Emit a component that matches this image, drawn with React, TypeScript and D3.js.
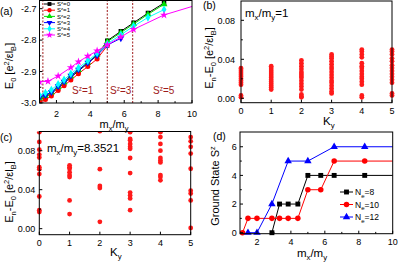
import * as d3 from "d3";
import React from "react";

const FONT = "'Liberation Sans', Arial, Helvetica, sans-serif";
const DARKRED = "#9e1b1b";

// ---- panel (a): E0 vs mx/my for each Sz sector
const ratioA = [1.0, 1.35, 1.7, 2.1, 2.45, 2.85, 3.3, 3.85, 4.4, 5.0, 5.8, 6.55, 7.4, 8.35];
const e0Sz0 = [-2.988, -2.98, -2.97, -2.952, -2.937, -2.918, -2.898, -2.874, -2.848, -2.802, -2.772, -2.745, -2.714, -2.682];
const e0Sz1 = [-2.996, -2.989, -2.978, -2.96, -2.945, -2.927, -2.907, -2.884, -2.86, -2.818];
const e0Sz2 = [-2.985, -2.977, -2.967, -2.949, -2.934, -2.915, -2.895, -2.871, -2.846, -2.805, -2.776, -2.749, -2.718, -2.686];
const e0Sz3 = [-2.982, -2.975, -2.965, -2.947, -2.932, -2.913, -2.894, -2.872, -2.848, -2.816, -2.794];
const e0Sz4 = [-2.975, -2.968, -2.958, -2.94, -2.926, -2.907, -2.888, -2.866, -2.842, -2.812, -2.783, -2.756, -2.728, -2.703];
const ratioSz5 = [1.0, 1.5, 2.1, 2.85, 3.3, 3.85, 4.4, 5.0, 5.8, 6.55, 8.35, 10];
const e0Sz5 = [-2.933, -2.931, -2.914, -2.887, -2.869, -2.851, -2.834, -2.815, -2.79, -2.766, -2.72, -2.693];
const transitions = [1.2, 5.0, 6.5];
const phaseLabels = [
  { at: 2.92, s: "1" },
  { at: 5.16, s: "3" },
  { at: 7.7, s: "5" },
];

// ---- panel (b): spectrum at mx/my = 1
const ky = [0, 1, 2, 3, 4, 5];
const gapB = [
  [0.001, 0.003, 0.014, 0.016, 0.018, 0.02, 0.022, 0.024, 0.026, 0.028, 0.03, 0.031],
  [0.009, 0.011, 0.013, 0.015, 0.017, 0.019, 0.021, 0.023, 0.025, 0.027, 0.029, 0.031, 0.033],
  [0.001, 0.002, 0.004, 0.009, 0.012, 0.015, 0.018, 0.021, 0.023, 0.025, 0.027, 0.03, 0.033, 0.036, 0.039],
  [0.005, 0.007, 0.01, 0.013, 0.016, 0.018, 0.021, 0.024, 0.027, 0.03, 0.032, 0.035, 0.038, 0.041, 0.043, 0.045],
  [0.001, 0.003, 0.014, 0.017, 0.02, 0.022, 0.025, 0.028, 0.031, 0.033, 0.036, 0.042, 0.045, 0.048, 0.05],
  [0.003, 0.005, 0.016, 0.019, 0.022, 0.025, 0.028, 0.031, 0.034, 0.038, 0.041, 0.045, 0.048, 0.05],
];

// ---- panel (c): spectrum at mx/my = 8.3521
const gapC = [
  [0.017, 0.019, 0.033, 0.056, 0.061, 0.063, 0.073, 0.076, 0.081, 0.089, 0.099],
  [0.015, 0.029, 0.053, 0.055, 0.058, 0.0615, 0.063, 0.065],
  [0.007, 0.0417, 0.0438, 0.061, 0.1],
  [0.019, 0.031, 0.034, 0.037, 0.057, 0.0725, 0.082, 0.084, 0.087, 0.0906, 0.092, 0.099],
  [0.0496, 0.053, 0.055, 0.068, 0.07, 0.0725, 0.08, 0.087, 0.094, 0.099],
  [0.0007, 0.029, 0.036, 0.039, 0.0615, 0.077, 0.084, 0.0896, 0.094],
];

// ---- panel (d): ground state Sz
const ratioN8 = [2.88, 3.33, 3.84, 4.41, 5.0, 5.76, 6.55, 8.35, 10];
const szN8 = [0, 2, 2, 2, 4, 4, 4, 4, 4];
const ratioN10 = [1.15, 1.47, 2.0, 2.88, 3.33, 3.84, 4.41, 5.0, 5.76, 6.55, 8.35, 10];
const szN10 = [0, 1, 1, 1, 1, 1, 1, 3, 3, 5, 5, 5];
const ratioN12 = [1.47, 2.0, 2.88, 3.84, 5.0, 6.55, 8.35, 10];
const szN12 = [0, 0, 2, 5, 5, 6, 6, 6];

type Sc = d3.ScaleLinear<number, number>;

const sym = (type: d3.SymbolType, size: number) => d3.symbol(type, size)() as string;

function MxMy({ fs, rest }: { fs: number; rest?: string }) {
  const s = fs * 0.68;
  const d = fs * 0.28;
  return (
    <>
      m<tspan dy={d} fontSize={s}>x</tspan>
      <tspan dy={-d}>/m</tspan>
      <tspan dy={d} fontSize={s}>y</tspan>
      {rest ? <tspan dy={-d}>{rest}</tspan> : null}
    </>
  );
}

function Frame(props: {
  x: Sc; y: Sc;
  xt: number[]; xm?: number[]; yt: number[]; ym?: number[];
  xf: (v: number) => string; yf: (v: number) => string;
  xly: number; ylx: number;
}) {
  const { x, y, xt, xm = [], yt, ym = [], xf, yf, xly, ylx } = props;
  const [x0, x1] = x.range();
  const [y0, y1] = y.range();
  return (
    <g fontFamily={FONT} fontSize={9}>
      <rect x={x0} y={y1} width={x1 - x0} height={y0 - y1} fill="none" stroke="#000" strokeWidth={1} />
      {xt.map((t) => (
        <g key={"xt" + t}>
          <line x1={x(t)} x2={x(t)} y1={y0} y2={y0 - 3} stroke="#000" />
          <text x={x(t)} y={y0 + xly} textAnchor="middle">{xf(t)}</text>
        </g>
      ))}
      {xm.map((t) => (
        <line key={"xm" + t} x1={x(t)} x2={x(t)} y1={y0} y2={y0 - 1.8} stroke="#000" />
      ))}
      {yt.map((t) => (
        <g key={"yt" + t}>
          <line x1={x0} x2={x0 + 3} y1={y(t)} y2={y(t)} stroke="#000" />
          <text x={x0 - ylx} y={y(t) + 3.2} textAnchor="end">{yf(t)}</text>
        </g>
      ))}
      {ym.map((t) => (
        <line key={"ym" + t} x1={x0} x2={x0 + 1.8} y1={y(t)} y2={y(t)} stroke="#000" />
      ))}
    </g>
  );
}

function PanelA() {
  const x = d3.scaleLinear().domain([1, 10]).range([39.5, 192]);
  const y = d3.scaleLinear().domain([-3.0, -2.674]).range([103, 0.5]);
  const series = [
    { xs: ratioA, ys: e0Sz0, color: "#000000", type: d3.symbolSquare, rot: 0, label: "0" },
    { xs: ratioA, ys: e0Sz1, color: "#ff0000", type: d3.symbolCircle, rot: 0, label: "1" },
    { xs: ratioA, ys: e0Sz2, color: "#00e000", type: d3.symbolTriangle, rot: 0, label: "2" },
    { xs: ratioA, ys: e0Sz3, color: "#0000ff", type: d3.symbolTriangle, rot: 180, label: "3" },
    { xs: ratioA, ys: e0Sz4, color: "#00ffff", type: d3.symbolDiamond, rot: 0, label: "4" },
    { xs: ratioSz5, ys: e0Sz5, color: "#ff00ff", type: d3.symbolStar, rot: 0, label: "5" },
  ];
  const line = d3.line<[number, number]>().x((d) => x(d[0])).y((d) => y(d[1]));
  return (
    <g>
      <defs>
        <clipPath id="clipA">
          <rect x={39.5} y={0} width={152.5} height={103} />
        </clipPath>
      </defs>
      {transitions.map((t) => (
        <line key={t} x1={x(t)} x2={x(t)} y1={103} y2={0.5} stroke={DARKRED} strokeWidth={1} strokeDasharray="2,1.5" />
      ))}
      <g clipPath="url(#clipA)">
        {series.map((s) => {
          const pts = s.ys.map((v, i) => [s.xs[i], v] as [number, number]);
          return (
            <g key={s.label}>
              <path d={line(pts) as string} fill="none" stroke={s.color} strokeWidth={1} />
              {pts.filter((p) => p[0] < 9.9).map((p, i) => (
                <path key={i} d={sym(s.type, 20)} fill={s.color}
                  transform={`translate(${x(p[0])},${y(p[1])}) rotate(${s.rot})`} />
              ))}
            </g>
          );
        })}
      </g>
      {phaseLabels.map((p) => (
        <text key={p.s} x={x(p.at)} y={94} fill={DARKRED} fontFamily={FONT} fontSize={10}>
          S<tspan dy={-3.5} fontSize={6.5}>z</tspan><tspan dy={3.5}>={p.s}</tspan>
        </text>
      ))}
      <rect x={42} y={0.5} width={36} height={37} fill="#fff" fillOpacity={0} />
      {series.map((s, i) => {
        const ly = 4 + i * 6.2;
        return (
          <g key={"lg" + s.label}>
            <line x1={44} x2={55} y1={ly} y2={ly} stroke={s.color} strokeWidth={1} />
            <path d={sym(s.type, 15)} fill={s.color} transform={`translate(49.5,${ly}) rotate(${s.rot})`} />
            <text x={57} y={ly + 2.2} fontFamily={FONT} fontSize={6}>
              S<tspan dy={-2} fontSize={4.2}>z</tspan><tspan dy={2}>={s.label}</tspan>
            </text>
          </g>
        );
      })}
      <Frame x={x} y={y} xt={[2, 4, 6, 8, 10]} xm={[1, 3, 5, 7, 9]} yt={[-3.0, -2.9, -2.8, -2.7]}
        ym={[-2.95, -2.85, -2.75]} xf={(v) => String(v)} yf={(v) => v.toFixed(1)} xly={13.5} ylx={3} />
      <text x={0} y={15} fontFamily={FONT} fontSize={10.5}>(a)</text>
      <text x={114} y={127.5} textAnchor="middle" fontFamily={FONT} fontSize={11}>
        <MxMy fs={11} />
      </text>
      <text transform="translate(13,66) rotate(-90)" textAnchor="middle" fontFamily={FONT} fontSize={11}>
        E<tspan dy={3} fontSize={7.5}>0</tspan>
        <tspan dy={-3}> [e</tspan>
        <tspan dy={-4} fontSize={7.5}>2</tspan>
        <tspan dy={4}>/εl</tspan>
        <tspan dy={3} fontSize={7.5}>B</tspan>
        <tspan dy={-3}>]</tspan>
      </text>
    </g>
  );
}

function GapLabel({ cx, cy }: { cx: number; cy: number }) {
  return (
    <text transform={`translate(${cx},${cy}) rotate(-90)`} textAnchor="middle" fontFamily={FONT} fontSize={11}>
      E<tspan dy={3} fontSize={7.5}>n</tspan>
      <tspan dy={-3}>-E</tspan>
      <tspan dy={3} fontSize={7.5}>0</tspan>
      <tspan dy={-3}> [e</tspan>
      <tspan dy={-4} fontSize={7.5}>2</tspan>
      <tspan dy={4}>/εl</tspan>
      <tspan dy={3} fontSize={7.5}>B</tspan>
      <tspan dy={-3}>]</tspan>
    </text>
  );
}

function Spectrum(props: {
  x: Sc; y: Sc; data: number[][]; id: string; clipTop: number;
  xly: number; ylx: number;
}) {
  const { x, y, data, id, clipTop, xly, ylx } = props;
  return (
    <g>
      <defs>
        <clipPath id={id}>
          <rect x={x.range()[0] - 10} y={clipTop} width={180} height={120} />
        </clipPath>
      </defs>
      <g clipPath={`url(#${id})`}>
        {data.map((col, k) =>
          col.map((v, i) => (
            <circle key={k + "-" + i} cx={x(ky[k])} cy={y(v)} r={2.4} fill="#ff1a1a" />
          ))
        )}
      </g>
      <Frame x={x} y={y} xt={ky} yt={[0, 0.04, 0.08]} ym={[0.02, 0.06]}
        xf={(v) => String(v)} yf={(v) => v.toFixed(2)} xly={11.3} ylx={ylx} />
    </g>
  );
}

function PanelB() {
  const x = d3.scaleLinear().domain([0, 5]).range([241, 392]);
  const y = d3.scaleLinear().domain([-0.0045, 0.0998]).range([102.7, 1]);
  return (
    <g>
      <Spectrum x={x} y={y} data={gapB} id="clipB" clipTop={1} xly={11.3} ylx={6} />
      <text x={203} y={9} fontFamily={FONT} fontSize={10.5}>(b)</text>
      <text x={245} y={17} fontFamily={FONT} fontSize={11.5}><MxMy fs={11.5} rest="=1" /></text>
      <text x={323} y={125} fontFamily={FONT} fontSize={11.5}>
        K<tspan dy={3} fontSize={7.8}>y</tspan>
      </text>
      <GapLabel cx={213} cy={58} />
    </g>
  );
}

function PanelC() {
  const x = d3.scaleLinear().domain([0, 5]).range([39.3, 190.7]);
  const y = d3.scaleLinear().domain([-0.0062, 0.0997]).range([234.7, 131.5]);
  return (
    <g>
      <Spectrum x={x} y={y} data={gapC} id="clipC" clipTop={131.5} xly={11.3} ylx={4} />
      <text x={0} y={141} fontFamily={FONT} fontSize={10.5}>(c)</text>
      <text x={47} y={152} fontFamily={FONT} fontSize={11.5}><MxMy fs={11.5} rest="=8.3521" /></text>
      <text x={110} y={256} fontFamily={FONT} fontSize={11.5}>
        K<tspan dy={3} fontSize={7.8}>y</tspan>
      </text>
      <GapLabel cx={13} cy={192} />
    </g>
  );
}

function PanelD() {
  const x = d3.scaleLinear().domain([1, 10]).range([240, 392.7]);
  const y = d3.scaleLinear().domain([-0.07, 7.03]).range([233.7, 132]);
  const series = [
    { xs: ratioN8, ys: szN8, color: "#000000", type: d3.symbolSquare, label: "8" },
    { xs: ratioN10, ys: szN10, color: "#ff0000", type: d3.symbolCircle, label: "10" },
    { xs: ratioN12, ys: szN12, color: "#0000ff", type: d3.symbolTriangle, label: "12" },
  ];
  const line = d3.line<[number, number]>().x((d) => x(d[0])).y((d) => y(d[1]));
  const legY = [192, 204.5, 217];
  return (
    <g>
      {series.map((s) => {
        const pts = s.ys.map((v, i) => [s.xs[i], v] as [number, number]);
        return (
          <g key={s.label}>
            <path d={line(pts) as string} fill="none" stroke={s.color} strokeWidth={1} />
            {pts.filter((p) => p[0] < 9.9).map((p, i) => (
              <path key={i} d={sym(s.type, 24)} fill={s.color}
                transform={`translate(${x(p[0])},${y(p[1])})`} />
            ))}
          </g>
        );
      })}
      {series.map((s, i) => (
        <g key={"lg" + s.label}>
          <line x1={340} x2={353} y1={legY[i]} y2={legY[i]} stroke={s.color} strokeWidth={1} />
          <path d={sym(s.type, 24)} fill={s.color} transform={`translate(346.5,${legY[i]})`} />
          <text x={355} y={legY[i] + 3} fontFamily={FONT} fontSize={8.5}>
            N<tspan dy={2.5} fontSize={6}>e</tspan><tspan dy={-2.5}>={s.label}</tspan>
          </text>
        </g>
      ))}
      <Frame x={x} y={y} xt={[2, 4, 6, 8, 10]} xm={[3, 5, 7, 9]} yt={[0, 2, 4, 6]} ym={[1, 3, 5]}
        xf={(v) => String(v)} yf={(v) => String(v)} xly={11.5} ylx={3.3} />
      <text x={213} y={140} fontFamily={FONT} fontSize={10.5}>(d)</text>
      <text x={312} y={257} textAnchor="middle" fontFamily={FONT} fontSize={11.5}>
        <MxMy fs={11.5} />
      </text>
      <text transform="translate(219,186) rotate(-90)" textAnchor="middle" fontFamily={FONT} fontSize={11}>
        Ground State S<tspan dy={-4} fontSize={7.5}>z</tspan>
      </text>
    </g>
  );
}

export default function App() {
  return (
    <svg width={399} height={264} viewBox="0 0 399 264"
      style={{ position: "absolute", left: 0, top: 0, background: "#fff" }}>
      <rect width={399} height={264} fill="#fff" />
      <PanelA />
      <PanelB />
      <PanelC />
      <PanelD />
    </svg>
  );
}
